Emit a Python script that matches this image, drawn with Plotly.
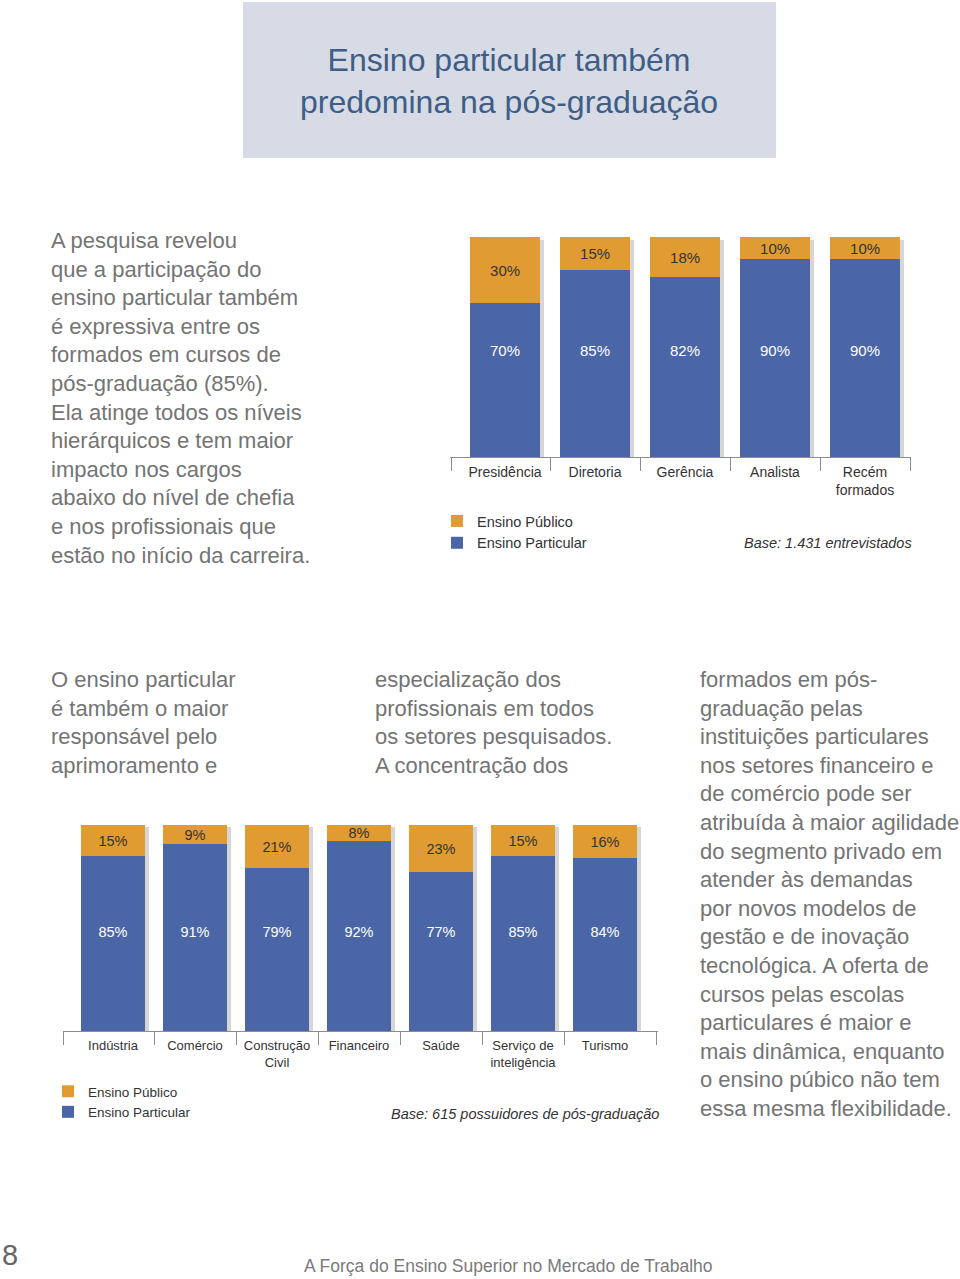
import plotly.graph_objects as go

W, H = 960, 1279

# ---------------- data ----------------
cargo_labels = ["Presidência", "Diretoria", "Gerência", "Analista", "Recém<br>formados"]
cargo_publico = [30, 15, 18, 10, 10]
cargo_particular = [70, 85, 82, 90, 90]

setor_labels = ["Indústria", "Comércio", "Construção<br>Civil", "Financeiro", "Saúde",
                "Serviço de<br>inteligência", "Turismo"]
setor_publico = [15, 9, 21, 8, 23, 15, 16]
setor_particular = [85, 91, 79, 92, 77, 85, 84]

ORANGE = "#E09B33"
BLUE = "#4B66A6"
SHADOW = "rgba(0,0,0,0.16)"
AXIS = "#8c8c8c"
BODY = "#747474"
FONT = "Liberation Sans, Arial, sans-serif"


def px_x(p):
    return p / W


def px_y(p):
    return 1 - p / H


fig = go.Figure()


def add_chart(labels, pub, par, xa, ya, legend, width, tsize):
    n = len(labels)
    xs = list(range(n))
    totals = [a + b for a, b in zip(pub, par)]
    # soft drop shadow behind each bar
    fig.add_trace(go.Bar(
        x=[x + 0.045 for x in xs], y=totals, base=[-1.2] * n, width=width,
        marker=dict(color=SHADOW, line=dict(width=0)), showlegend=False,
        hoverinfo="skip", xaxis=xa, yaxis=ya))
    fig.add_trace(go.Bar(
        x=xs, y=par, width=width, name="Ensino Particular",
        marker=dict(color=BLUE, line=dict(width=0)),
        legend=legend, legendrank=2,
        hoverinfo="skip", xaxis=xa, yaxis=ya))
    fig.add_trace(go.Bar(
        x=xs, y=pub, base=par, width=width, name="Ensino Público",
        marker=dict(color=ORANGE, line=dict(width=0)),
        text=[f"{v}%" for v in pub], textposition="inside",
        insidetextanchor="middle", textangle=0, constraintext="none",
        textfont=dict(family=FONT, size=tsize, color="#333333"),
        legend=legend, legendrank=1,
        hoverinfo="skip", xaxis=xa, yaxis=ya))
    fig.add_trace(go.Scatter(
        x=xs, y=[47.5] * n, mode="text", text=[f"{v}%" for v in par],
        textfont=dict(family=FONT, size=tsize, color="white"),
        showlegend=False, hoverinfo="skip", cliponaxis=False,
        xaxis=xa, yaxis=ya))


add_chart(cargo_labels, cargo_publico, cargo_particular, "x", "y", "legend", 0.78, 15)
add_chart(setor_labels, setor_publico, setor_particular, "x2", "y2", "legend2", 0.79, 14.5)

# ---------------- axes ----------------
def xaxis_cfg(n, labels, x0px, unit, lo, hi, seps, lsize, anchor):
    return dict(
        anchor=anchor,
        domain=[px_x(x0px + lo * unit), px_x(x0px + hi * unit)],
        range=[lo, hi], tickvals=list(range(n)), ticktext=labels,
        ticks="", showgrid=False, zeroline=False,
        showline=True, linecolor=AXIS, linewidth=1,
        tickfont=dict(family=FONT, size=lsize, color="#333333"),
        ticklabelstandoff=2,
        minor=dict(tickvals=seps, ticks="outside", ticklen=13,
                   tickcolor=AXIS, tickwidth=1, showgrid=False),
        fixedrange=True,
    )


fig.update_layout(
    xaxis=xaxis_cfg(5, cargo_labels, 505, 90, -0.61, 4.51,
                    [-0.6, 0.5, 1.5, 2.5, 3.5, 4.5], 14, "y"),
    yaxis=dict(anchor="x", domain=[px_y(457), px_y(237)], range=[0, 100],
               visible=False, fixedrange=True),
    xaxis2=xaxis_cfg(7, setor_labels, 113, 82, -0.61, 6.65,
                     [-0.6, 0.5, 1.5, 2.5, 3.5, 4.5, 5.5, 6.63], 13, "y2"),
    yaxis2=dict(anchor="x2", domain=[px_y(1031), px_y(825)], range=[0, 100],
                visible=False, fixedrange=True),
    barmode="overlay",
    bargap=0,
    width=W, height=H,
    margin=dict(l=0, r=0, t=0, b=0),
    paper_bgcolor="white", plot_bgcolor="rgba(0,0,0,0)",
    font=dict(family=FONT, color="#333333"),
    legend=dict(x=px_x(437), y=px_y(505), xanchor="left", yanchor="top",
                bgcolor="rgba(0,0,0,0)", borderwidth=0,
                font=dict(family=FONT, size=14.5, color="#333333"),
                itemclick=False, itemdoubleclick=False),
    legend2=dict(x=px_x(48), y=px_y(1076), xanchor="left", yanchor="top",
                 bgcolor="rgba(0,0,0,0)", borderwidth=0,
                 font=dict(family=FONT, size=13.5, color="#333333"),
                 itemclick=False, itemdoubleclick=False),
)

# ---------------- title box ----------------
fig.add_shape(type="rect", xref="paper", yref="paper",
              x0=px_x(243), x1=px_x(776), y0=px_y(158), y1=px_y(2),
              fillcolor="#D6DBE5", line=dict(width=0), layer="below")

ann = []
ann.append(dict(text="Ensino particular também<br>predomina na pós-graduação",
                x=px_x(509), y=px_y(81), xanchor="center", yanchor="middle",
                font=dict(family=FONT, size=32, color="#3F5D86")))

left_par = ("A pesquisa revelou<br>que a participação do<br>ensino particular também<br>"
            "é expressiva entre os<br>formados em cursos de<br>pós-graduação (85%).<br>"
            "Ela atinge todos os níveis<br>hierárquicos e tem maior<br>impacto nos cargos<br>"
            "abaixo do nível de chefia<br>e nos profissionais que<br>estão no início da carreira.")
col1 = "O ensino particular<br>é também o maior<br>responsável pelo<br>aprimoramento e"
col2 = ("especialização dos<br>profissionais em todos<br>os setores pesquisados.<br>"
        "A concentração dos")
col3 = ("formados em pós-<br>graduação pelas<br>instituições particulares<br>"
        "nos setores financeiro e<br>de comércio pode ser<br>atribuída à maior agilidade<br>"
        "do segmento privado em<br>atender às demandas<br>por novos modelos de<br>"
        "gestão e de inovação<br>tecnológica. A oferta de<br>cursos pelas escolas<br>"
        "particulares é maior e<br>mais dinâmica, enquanto<br>o ensino púbico não tem<br>"
        "essa mesma flexibilidade.")

for txt, xp, yp in [(left_par, 49, 226), (col1, 49, 665), (col2, 373, 665), (col3, 698, 665)]:
    ann.append(dict(text=txt, x=px_x(xp), y=px_y(yp), xanchor="left", yanchor="top",
                    align="left", font=dict(family=FONT, size=22, color=BODY)))

ann.append(dict(text="<i>Base: 1.431 entrevistados</i>", x=px_x(914), y=px_y(543),
                xanchor="right", yanchor="middle",
                font=dict(family=FONT, size=14.5, color="#333333")))
ann.append(dict(text="<i>Base: 615 possuidores de pós-graduação</i>", x=px_x(661),
                y=px_y(1114), xanchor="right", yanchor="middle",
                font=dict(family=FONT, size=14.5, color="#333333")))

ann.append(dict(text="8", x=px_x(0), y=px_y(1255), xanchor="left", yanchor="middle",
                font=dict(family=FONT, size=29, color="#666666")))
ann.append(dict(text="A Força do Ensino Superior no Mercado de Trabalho", x=px_x(509),
                y=px_y(1266), xanchor="center", yanchor="middle",
                font=dict(family=FONT, size=17.5, color="#7a7a7a")))

for a in ann:
    a.update(xref="paper", yref="paper", showarrow=False)
fig.update_layout(annotations=ann)

fig.write_html("out.html", config={"displayModeBar": False})
